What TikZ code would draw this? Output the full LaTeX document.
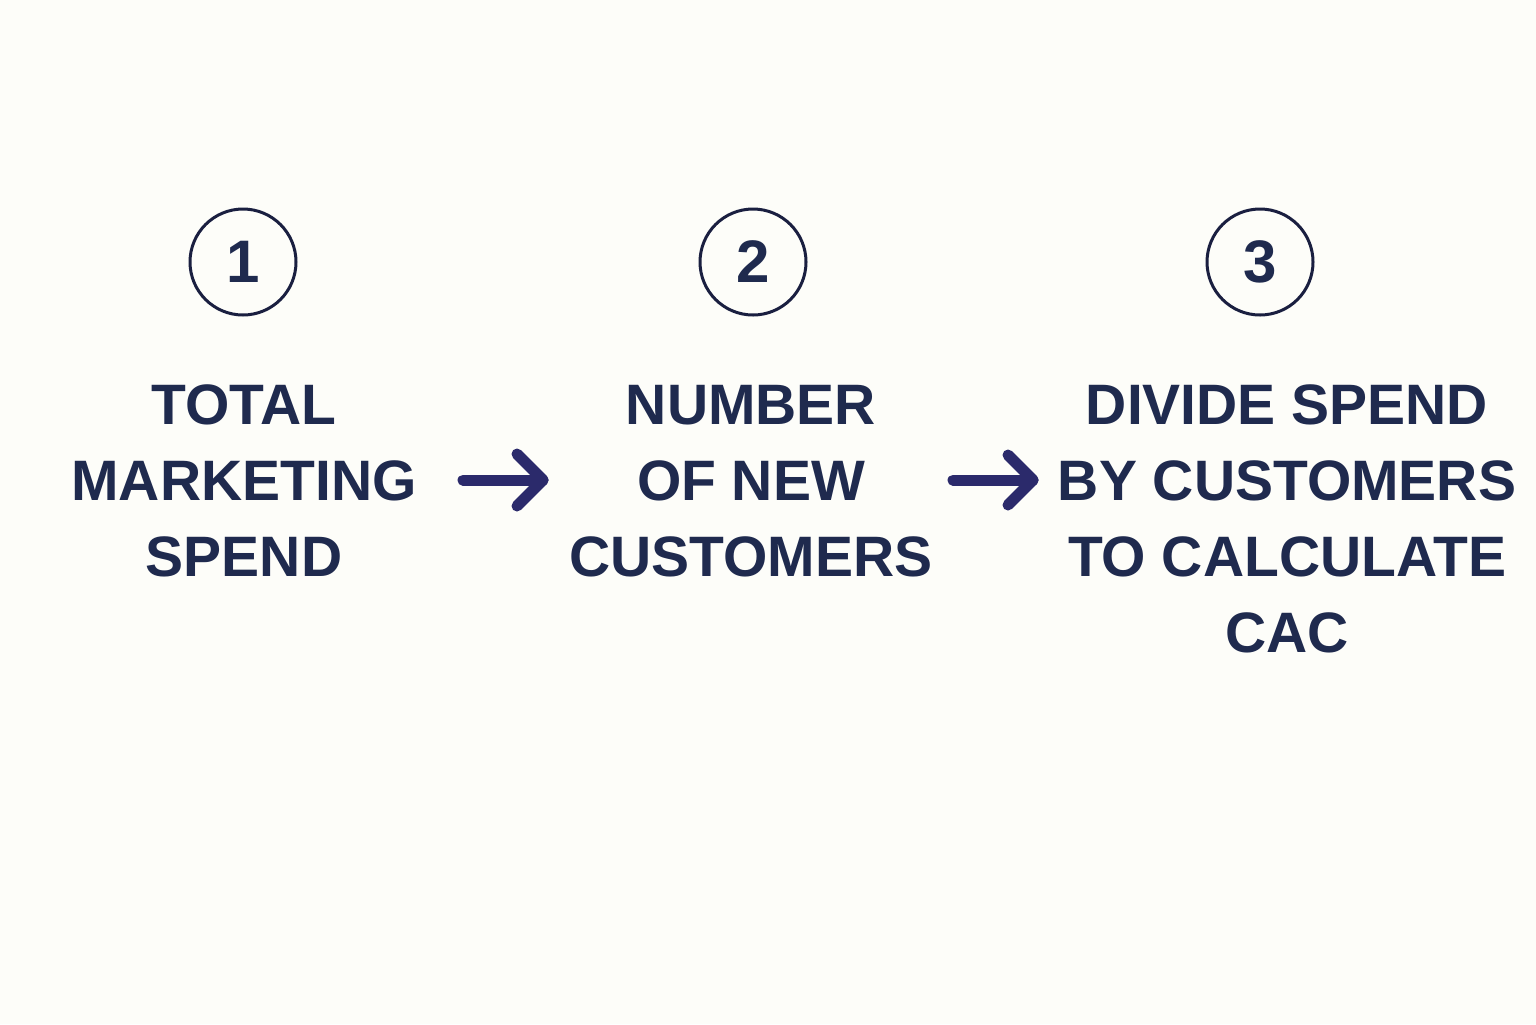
\documentclass[tikz,border=0pt]{standalone}
\usepackage{fontspec}
\setmainfont{Liberation Sans}
\usetikzlibrary{calc}
\definecolor{bgc}{HTML}{FDFDF9}
\definecolor{txtc}{HTML}{1F2A4E}
\definecolor{arrc}{HTML}{2B2A6B}
\definecolor{circc}{HTML}{1A1F40}
\tikzset{
  numcirc/.style={circle, draw=circc, line width=1.5pt, minimum size=53pt, inner sep=0pt,
    text=txtc, font=\bfseries\fontsize{30}{30}\selectfont},
  steptext/.style={align=center, inner sep=0pt, text=txtc,
    font=\bfseries\fontsize{28.5}{38}\selectfont},
  flowarrow/.style={draw=arrc, line width=5.5pt, line cap=round, line join=round}
}
\begin{document}
\begin{tikzpicture}[x=0.5pt,y=-0.5pt]
\fill[bgc] (0,0) rectangle (1536,1024);
\useasboundingbox (0,0) rectangle (1536,1024);

\node[numcirc] (c1) at (243,262) {1};
\node[numcirc] (c2) at (753,262) {2};
\node[numcirc] (c3) at (1260,262) {3};

\node[steptext] (t1) at (244,481) {TOTAL\\MARKETING\\SPEND};
\node[steptext] (t2) at (751,481) {NUMBER\\OF NEW\\CUSTOMERS};
\node[steptext] (t3) at (1287,519) {DIVIDE SPEND\\BY CUSTOMERS\\TO CALCULATE\\CAC};

\coordinate (a1s) at (463,480);
\coordinate (a1e) at (543,480);
\coordinate (a2s) at (953,480);
\coordinate (a2e) at (1033,480);

\draw[flowarrow] (a1s) -- (a1e);
\draw[flowarrow] ($(a1e)+(-26,-26)$) -- (a1e) -- ($(a1e)+(-26,26)$);
\draw[flowarrow] (a2s) -- (a2e);
\draw[flowarrow] ($(a2e)+(-25,-25)$) -- (a2e) -- ($(a2e)+(-25,25)$);
\end{tikzpicture}
\end{document}
